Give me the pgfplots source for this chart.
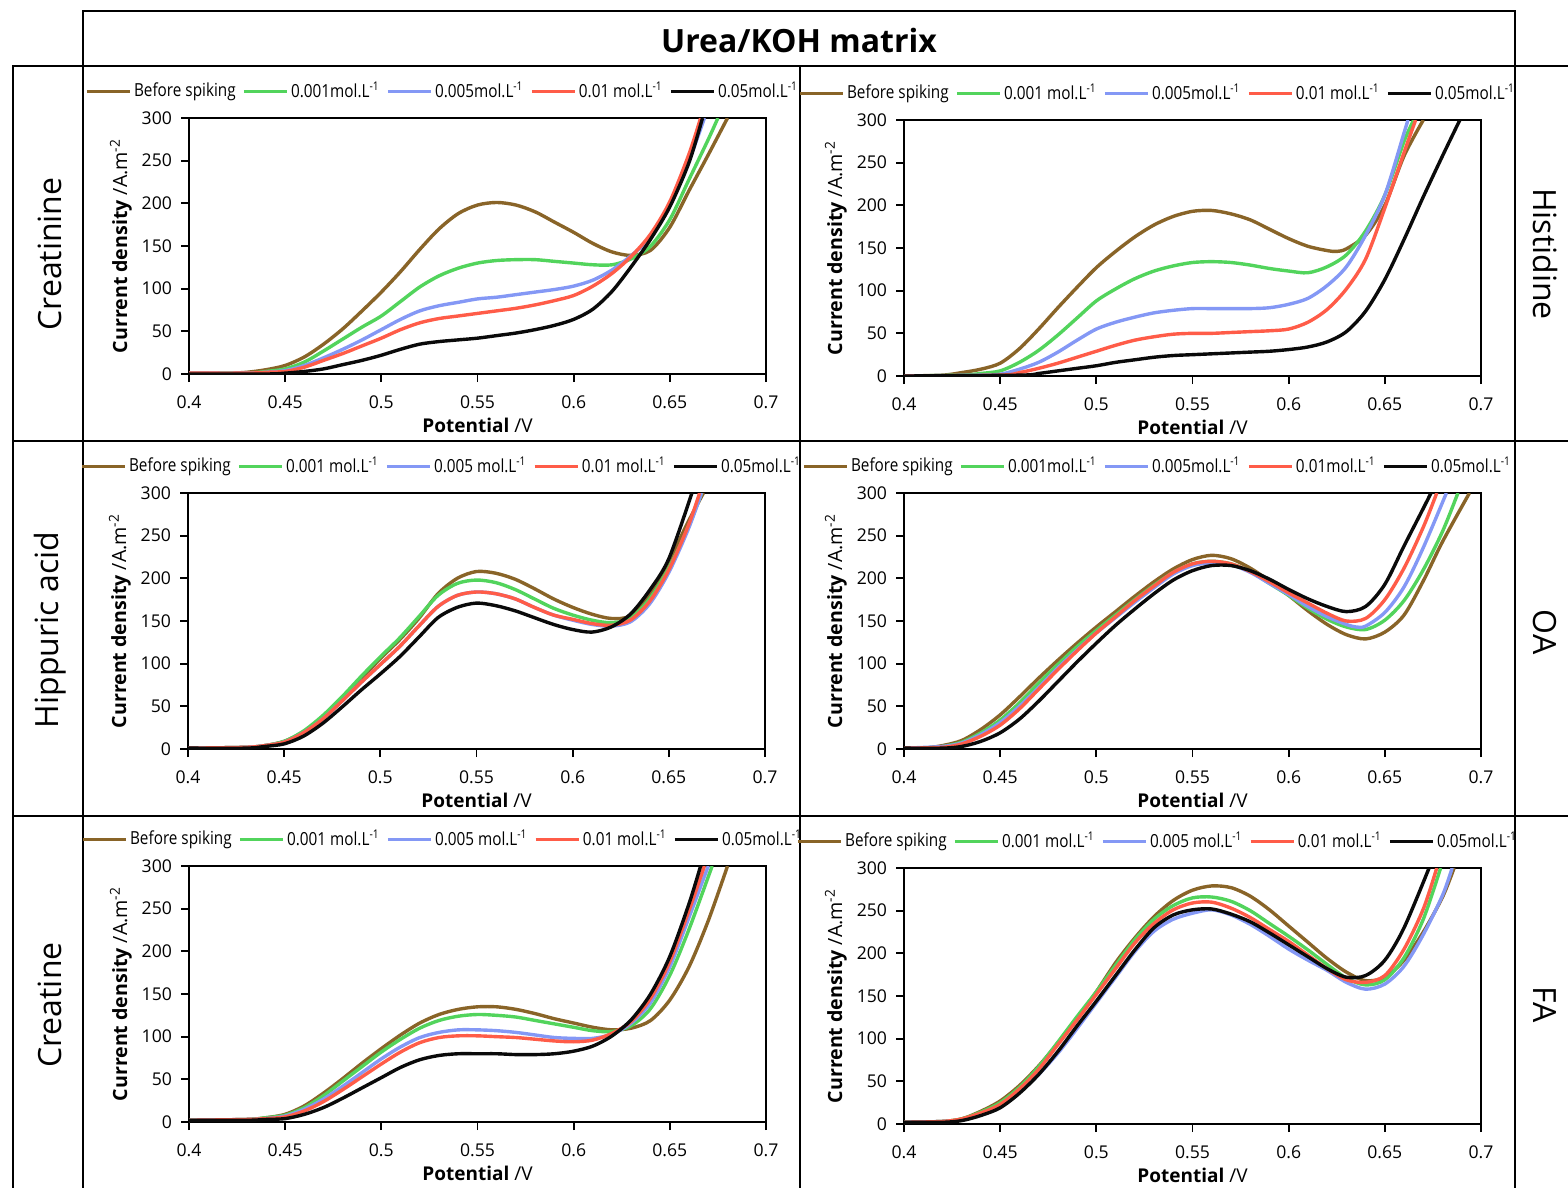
\documentclass[border=0pt]{standalone}
\usepackage{fontspec}
\setmainfont{Open Sans}
\newfontfamily\legfont[FakeStretch=0.85]{Open Sans}
\usepackage{pgfplots}
\pgfplotsset{compat=1.18}

\definecolor{cBrown}{RGB}{137,100,40}
\definecolor{cGreen}{RGB}{82,212,92}
\definecolor{cBlue}{RGB}{132,152,245}
\definecolor{cRed}{RGB}{255,92,72}
\definecolor{cBlack}{RGB}{10,10,10}

\newcommand\molL{mol.L\textsuperscript{-1}}

\pgfplotsset{
  panel/.style={
    width=288.5pt, height=128pt, scale only axis,
    xmin=0.4, xmax=0.7, ymin=0, ymax=300,
    xtick={0.4,0.45,0.5,0.55,0.6,0.65,0.7},
    ytick={0,50,100,150,200,250,300},
    tick align=outside, tick pos=left, major tick length=4pt,
    axis line style={line width=0.9pt},
    every tick/.style={black, line width=0.9pt},
    /pgf/number format/assume math mode=true,
    ticklabel style={font=\fontsize{8.8}{10}\selectfont},
    xticklabel style={yshift=-3.5pt},
    yticklabel style={xshift=-1pt},
    xlabel={\textbf{Potential} /V},
    ylabel={\textbf{Current density} /A.m\textsuperscript{-2}},
    xlabel style={font=\fontsize{9.5}{11}\selectfont, at={(axis description cs:0.5,-0.2)}, anchor=center},
    ylabel style={font=\fontsize{9.8}{11}\selectfont, at={(axis description cs:-0.118,0.5)}, anchor=center},
    legend style={at={(axis description cs:0.44,1.105)}, anchor=center,
      draw=none, fill=none, legend columns=5,
      font=\legfont\fontsize{9}{10}\selectfont,
      nodes={inner sep=1.3pt},
      /tikz/every even column/.append style={column sep=2pt}},
    legend image code/.code={\draw[#1,line width=1.6pt] (0pt,0pt) -- (21.5pt,0pt);},
  },
  sB/.style={cBrown, line width=1.7pt, smooth, no marks},
  sG/.style={cGreen, line width=1.7pt, smooth, no marks},
  sL/.style={cBlue, line width=1.7pt, smooth, no marks},
  sR/.style={cRed, line width=1.7pt, smooth, no marks},
  sK/.style={cBlack, line width=1.7pt, smooth, no marks},
}

\begin{document}
\begin{tikzpicture}
\path[use as bounding box] (0pt,0pt) rectangle (784pt,-594pt);

\begin{scope}[x=0.5pt, y=-0.5pt, line width=1pt]
  \draw (83,66) -- (83,11) -- (1515,11) -- (1515,66);
  \draw (13,1190) -- (13,66) -- (1570,66);
  \draw (13,441) -- (1570,441);
  \draw (13,816) -- (1570,816);
  \draw (83,66) -- (83,1190);
  \draw (800,66) -- (800,1190);
  \draw (1515,66) -- (1515,1190);
  \node[font=\bfseries\fontsize{16}{19}\selectfont] at (799,41) {Urea/KOH matrix};
  \node[rotate=90, font=\fontsize{16}{19}\selectfont] at (50,254) {Creatinine};
  \node[rotate=90, font=\fontsize{16}{19}\selectfont] at (50,630) {Hippuric acid};
  \node[rotate=90, font=\fontsize{16}{19}\selectfont] at (50,1005) {Creatine};
  \node[rotate=-90, font=\fontsize{16}{19}\selectfont] at (1545,254) {Histidine};
  \node[rotate=-90, font=\fontsize{16}{19}\selectfont] at (1545,632) {OA};
  \node[rotate=-90, font=\fontsize{16}{19}\selectfont] at (1545,1005) {FA};
  \coordinate (p1) at (189,374);
  \coordinate (p2) at (904,376);
  \coordinate (p3) at (188,749);
  \coordinate (p4) at (904,749);
  \coordinate (p5) at (189,1122);
  \coordinate (p6) at (904,1124);
\end{scope}

% Creatinine
\begin{axis}[panel, at={(p1)}, anchor=south west]
\addplot[sB] coordinates {(0.40,1)(0.42,1)(0.43,2)(0.44,5)(0.45,10)(0.46,20)(0.47,35)(0.48,53)(0.49,74)(0.50,96)(0.51,120)(0.52,146)(0.53,170)(0.54,188)(0.55,198)(0.56,201)(0.57,198)(0.58,190)(0.59,178)(0.60,166)(0.61,153)(0.62,143)(0.63,139)(0.64,145)(0.65,172)(0.66,215)(0.67,257)(0.68,300)};
\addplot[sG] coordinates {(0.40,1)(0.43,1)(0.44,3)(0.45,6)(0.46,14)(0.47,27)(0.48,41)(0.49,55)(0.50,68)(0.51,85)(0.52,102)(0.53,115)(0.54,124)(0.55,130)(0.56,133)(0.57,134)(0.58,134)(0.59,132)(0.60,130)(0.61,128)(0.62,128)(0.63,135)(0.64,150)(0.65,181)(0.66,228)(0.67,275)(0.675,300)};
\addplot[sL] coordinates {(0.40,1)(0.43,1)(0.44,2)(0.45,4)(0.46,10)(0.47,19)(0.48,29)(0.49,40)(0.50,52)(0.51,64)(0.52,74)(0.53,80)(0.54,84)(0.55,88)(0.56,90)(0.57,93)(0.58,96)(0.59,99)(0.60,103)(0.61,110)(0.62,122)(0.63,139)(0.64,160)(0.65,197)(0.66,250)(0.668,300)};
\addplot[sR] coordinates {(0.40,1)(0.43,1)(0.44,2)(0.45,3)(0.46,8)(0.47,16)(0.48,24)(0.49,33)(0.50,42)(0.51,52)(0.52,60)(0.53,65)(0.54,68)(0.55,71)(0.56,74)(0.57,77)(0.58,81)(0.59,86)(0.60,92)(0.61,103)(0.62,118)(0.63,138)(0.64,164)(0.65,202)(0.66,258)(0.666,300)};
\addplot[sK] coordinates {(0.40,0)(0.44,0)(0.45,1)(0.46,3)(0.47,6)(0.48,11)(0.49,16)(0.50,22)(0.51,29)(0.52,35)(0.53,38)(0.54,40)(0.55,42)(0.56,45)(0.57,48)(0.58,52)(0.59,57)(0.60,64)(0.61,76)(0.62,97)(0.63,126)(0.64,158)(0.65,196)(0.66,248)(0.667,300)};
\legend{Before spiking,0.001\molL,0.005\molL,0.01 \molL,0.05\molL}
\end{axis}

% Histidine
\begin{axis}[panel, at={(p2)}, anchor=south west]
\addplot[sB] coordinates {(0.40,0)(0.42,1)(0.43,4)(0.44,8)(0.45,15)(0.46,32)(0.47,55)(0.48,80)(0.49,104)(0.50,127)(0.51,146)(0.52,163)(0.53,177)(0.54,187)(0.55,193)(0.56,194)(0.57,190)(0.58,183)(0.59,172)(0.60,161)(0.61,152)(0.62,147)(0.625,146)(0.63,149)(0.64,165)(0.65,200)(0.66,258)(0.67,300)};
\addplot[sG] coordinates {(0.40,0)(0.43,1)(0.44,3)(0.45,6)(0.46,16)(0.47,30)(0.48,48)(0.49,68)(0.50,88)(0.51,102)(0.52,114)(0.53,123)(0.54,129)(0.55,133)(0.56,134)(0.57,133)(0.58,130)(0.59,126)(0.60,123)(0.61,121)(0.62,128)(0.63,142)(0.64,170)(0.65,212)(0.66,275)(0.665,300)};
\addplot[sL] coordinates {(0.40,0)(0.44,1)(0.45,2)(0.46,8)(0.47,16)(0.48,28)(0.49,42)(0.50,55)(0.51,63)(0.52,69)(0.53,74)(0.54,77)(0.55,79)(0.56,79)(0.57,79)(0.58,79)(0.59,80)(0.60,84)(0.61,91)(0.62,106)(0.63,128)(0.64,165)(0.65,212)(0.66,285)(0.662,300)};
\addplot[sR] coordinates {(0.40,0)(0.45,1)(0.46,4)(0.47,9)(0.48,15)(0.49,22)(0.50,29)(0.51,36)(0.52,42)(0.53,46)(0.54,49)(0.55,50)(0.56,50)(0.57,51)(0.58,52)(0.59,53)(0.60,55)(0.61,63)(0.62,78)(0.63,102)(0.64,137)(0.65,197)(0.66,262)(0.666,300)};
\addplot[sK] coordinates {(0.40,0)(0.46,1)(0.47,3)(0.48,6)(0.49,9)(0.50,12)(0.51,16)(0.52,19)(0.53,22)(0.54,24)(0.55,25)(0.56,26)(0.57,27)(0.58,28)(0.59,29)(0.60,31)(0.61,34)(0.62,40)(0.63,52)(0.64,76)(0.65,113)(0.66,160)(0.67,210)(0.68,258)(0.689,300)};
\legend{Before spiking,0.001 \molL,0.005\molL,0.01 \molL,0.05\molL}
\end{axis}

% Hippuric acid
\begin{axis}[panel, at={(p3)}, anchor=south west]
\addplot[sB] coordinates {(0.40,1)(0.43,2)(0.44,4)(0.45,9)(0.46,20)(0.47,37)(0.48,58)(0.49,82)(0.50,106)(0.51,128)(0.52,153)(0.53,182)(0.54,200)(0.55,208)(0.56,206)(0.57,199)(0.58,188)(0.59,176)(0.60,166)(0.61,158)(0.62,153)(0.63,156)(0.64,180)(0.65,220)(0.66,266)(0.668,300)};
\addplot[sG] coordinates {(0.40,1)(0.43,2)(0.44,4)(0.45,9)(0.46,21)(0.47,39)(0.48,61)(0.49,85)(0.50,108)(0.51,130)(0.52,155)(0.53,180)(0.54,194)(0.55,198)(0.56,195)(0.57,187)(0.58,176)(0.59,165)(0.60,157)(0.61,151)(0.62,148)(0.63,153)(0.64,176)(0.65,212)(0.66,259)(0.667,300)};
\addplot[sL] coordinates {(0.40,1)(0.43,2)(0.44,4)(0.45,8)(0.46,19)(0.47,35)(0.48,56)(0.49,78)(0.50,99)(0.51,120)(0.52,144)(0.53,167)(0.54,180)(0.55,184)(0.56,182)(0.57,176)(0.58,166)(0.59,157)(0.60,151)(0.61,146)(0.62,144)(0.63,149)(0.64,170)(0.65,207)(0.66,257)(0.667,300)};
\addplot[sR] coordinates {(0.40,1)(0.43,2)(0.44,4)(0.45,8)(0.46,19)(0.47,35)(0.48,56)(0.49,78)(0.50,99)(0.51,120)(0.52,144)(0.53,167)(0.54,180)(0.55,184)(0.56,182)(0.57,176)(0.58,166)(0.59,157)(0.60,152)(0.61,147)(0.62,145)(0.63,151)(0.64,173)(0.65,210)(0.66,261)(0.666,300)};
\addplot[sK] coordinates {(0.40,1)(0.43,1)(0.44,3)(0.45,6)(0.46,15)(0.47,30)(0.48,49)(0.49,69)(0.50,88)(0.51,108)(0.52,131)(0.53,154)(0.54,166)(0.55,171)(0.56,168)(0.57,162)(0.58,154)(0.59,146)(0.60,140)(0.61,137)(0.62,143)(0.63,158)(0.64,186)(0.65,223)(0.662,300)};
\legend{Before spiking,0.001 \molL,0.005 \molL,0.01 \molL,0.05\molL}
\end{axis}

% OA
\begin{axis}[panel, at={(p4)}, anchor=south west]
\addplot[sB] coordinates {(0.40,1)(0.41,1)(0.42,4)(0.43,10)(0.44,23)(0.45,40)(0.46,61)(0.47,83)(0.48,104)(0.49,124)(0.50,143)(0.51,161)(0.52,179)(0.53,196)(0.54,211)(0.55,222)(0.56,227)(0.57,223)(0.58,212)(0.59,197)(0.60,180)(0.61,162)(0.62,146)(0.63,134)(0.64,129)(0.65,137)(0.66,157)(0.67,197)(0.68,243)(0.694,300)};
\addplot[sG] coordinates {(0.40,1)(0.41,1)(0.42,3)(0.43,8)(0.44,19)(0.45,34)(0.46,54)(0.47,77)(0.48,99)(0.49,120)(0.50,139)(0.51,157)(0.52,175)(0.53,192)(0.54,207)(0.55,217)(0.56,220)(0.57,217)(0.58,208)(0.59,194)(0.60,180)(0.61,165)(0.62,152)(0.63,143)(0.64,140)(0.65,151)(0.66,174)(0.67,210)(0.68,255)(0.688,300)};
\addplot[sL] coordinates {(0.40,1)(0.42,3)(0.43,7)(0.44,17)(0.45,31)(0.46,50)(0.47,72)(0.48,95)(0.49,116)(0.50,136)(0.51,154)(0.52,172)(0.53,189)(0.54,205)(0.55,215)(0.56,218)(0.57,216)(0.58,207)(0.59,194)(0.60,181)(0.61,167)(0.62,155)(0.63,146)(0.635,143)(0.64,144)(0.65,160)(0.66,190)(0.67,236)(0.682,300)};
\addplot[sR] coordinates {(0.40,1)(0.42,2)(0.43,6)(0.44,15)(0.45,28)(0.46,47)(0.47,70)(0.48,93)(0.49,115)(0.50,136)(0.51,155)(0.52,174)(0.53,191)(0.54,207)(0.55,217)(0.56,220)(0.57,217)(0.58,208)(0.59,196)(0.60,183)(0.61,171)(0.62,159)(0.63,150)(0.64,153)(0.65,175)(0.66,212)(0.67,260)(0.677,300)};
\addplot[sK] coordinates {(0.40,1)(0.42,1)(0.43,3)(0.44,9)(0.45,19)(0.46,35)(0.47,56)(0.48,79)(0.49,102)(0.50,124)(0.51,145)(0.52,164)(0.53,182)(0.54,198)(0.55,209)(0.56,215)(0.57,215)(0.58,209)(0.59,199)(0.60,187)(0.61,176)(0.62,167)(0.63,161)(0.64,167)(0.65,193)(0.66,238)(0.67,282)(0.674,300)};
\legend{Before spiking,0.001\molL,0.005\molL,0.01\molL,0.05\molL}
\end{axis}

% Creatine
\begin{axis}[panel, at={(p5)}, anchor=south west]
\addplot[sB] coordinates {(0.40,2)(0.43,3)(0.44,5)(0.45,9)(0.46,19)(0.47,34)(0.48,51)(0.49,69)(0.50,86)(0.51,102)(0.52,116)(0.53,126)(0.54,132)(0.55,135)(0.56,135)(0.57,132)(0.58,127)(0.59,121)(0.60,116)(0.61,111)(0.62,108)(0.63,110)(0.64,119)(0.65,143)(0.66,182)(0.67,236)(0.68,300)};
\addplot[sG] coordinates {(0.40,2)(0.43,3)(0.44,5)(0.45,8)(0.46,17)(0.47,31)(0.48,48)(0.49,65)(0.50,82)(0.51,97)(0.52,110)(0.53,119)(0.54,124)(0.55,126)(0.56,125)(0.57,123)(0.58,119)(0.59,115)(0.60,111)(0.61,107)(0.62,106)(0.63,113)(0.64,133)(0.65,172)(0.66,226)(0.672,300)};
\addplot[sL] coordinates {(0.40,2)(0.43,3)(0.44,4)(0.45,7)(0.46,15)(0.47,27)(0.48,42)(0.49,58)(0.50,74)(0.51,88)(0.52,99)(0.53,105)(0.54,108)(0.55,108)(0.56,107)(0.57,105)(0.58,102)(0.59,99)(0.60,98)(0.61,98)(0.62,103)(0.63,116)(0.64,140)(0.65,182)(0.66,240)(0.67,300)};
\addplot[sR] coordinates {(0.40,2)(0.43,3)(0.44,4)(0.45,6)(0.46,13)(0.47,24)(0.48,38)(0.49,53)(0.50,68)(0.51,82)(0.52,93)(0.53,99)(0.54,101)(0.55,101)(0.56,100)(0.57,99)(0.58,97)(0.59,95)(0.60,94)(0.61,96)(0.62,104)(0.63,118)(0.64,145)(0.65,188)(0.66,248)(0.668,300)};
\addplot[sK] coordinates {(0.40,2)(0.43,2)(0.44,3)(0.45,4)(0.46,9)(0.47,17)(0.48,28)(0.49,40)(0.50,52)(0.51,64)(0.52,73)(0.53,78)(0.54,80)(0.55,80)(0.56,80)(0.57,79)(0.58,79)(0.59,80)(0.60,83)(0.61,89)(0.62,101)(0.63,120)(0.64,150)(0.65,194)(0.66,256)(0.666,300)};
\legend{Before spiking,0.001 \molL,0.005 \molL,0.01 \molL,0.05\molL}
\end{axis}

% FA
\begin{axis}[panel, at={(p6)}, anchor=south west]
\addplot[sB] coordinates {(0.40,2)(0.42,3)(0.43,6)(0.44,15)(0.45,27)(0.46,45)(0.47,68)(0.48,95)(0.49,124)(0.50,155)(0.51,189)(0.52,218)(0.53,243)(0.54,262)(0.55,274)(0.56,279)(0.57,277)(0.58,267)(0.59,251)(0.60,232)(0.61,213)(0.62,194)(0.63,178)(0.64,168)(0.65,172)(0.66,192)(0.67,225)(0.68,266)(0.686,300)};
\addplot[sG] coordinates {(0.40,2)(0.42,3)(0.43,6)(0.44,14)(0.45,25)(0.46,43)(0.47,67)(0.48,96)(0.49,126)(0.50,155)(0.51,186)(0.52,216)(0.53,240)(0.54,256)(0.55,265)(0.56,266)(0.57,261)(0.58,250)(0.59,235)(0.60,220)(0.61,204)(0.62,187)(0.63,171)(0.64,163)(0.65,169)(0.66,195)(0.67,240)(0.679,300)};
\addplot[sL] coordinates {(0.40,2)(0.42,3)(0.43,5)(0.44,11)(0.45,21)(0.46,37)(0.47,58)(0.48,83)(0.49,112)(0.50,142)(0.51,172)(0.52,202)(0.53,226)(0.54,240)(0.55,247)(0.56,251)(0.57,245)(0.58,234)(0.59,220)(0.60,205)(0.61,192)(0.62,180)(0.63,166)(0.64,158)(0.65,164)(0.66,185)(0.67,222)(0.68,268)(0.685,300)};
\addplot[sR] coordinates {(0.40,2)(0.42,3)(0.43,6)(0.44,13)(0.45,23)(0.46,41)(0.47,64)(0.48,93)(0.49,122)(0.50,152)(0.51,182)(0.52,212)(0.53,235)(0.54,251)(0.55,259)(0.56,260)(0.57,253)(0.58,242)(0.59,228)(0.60,214)(0.61,198)(0.62,182)(0.63,169)(0.64,166)(0.65,174)(0.66,205)(0.67,252)(0.677,300)};
\addplot[sK] coordinates {(0.40,2)(0.42,2)(0.43,4)(0.44,10)(0.45,19)(0.46,36)(0.47,58)(0.48,85)(0.49,115)(0.50,144)(0.51,174)(0.52,204)(0.53,230)(0.54,245)(0.55,251)(0.56,252)(0.57,246)(0.58,237)(0.59,224)(0.60,210)(0.61,196)(0.62,182)(0.63,172)(0.64,174)(0.65,192)(0.66,230)(0.673,300)};
\legend{Before spiking,0.001 \molL,0.005 \molL,0.01 \molL,0.05\molL}
\end{axis}
\end{tikzpicture}
\end{document}
